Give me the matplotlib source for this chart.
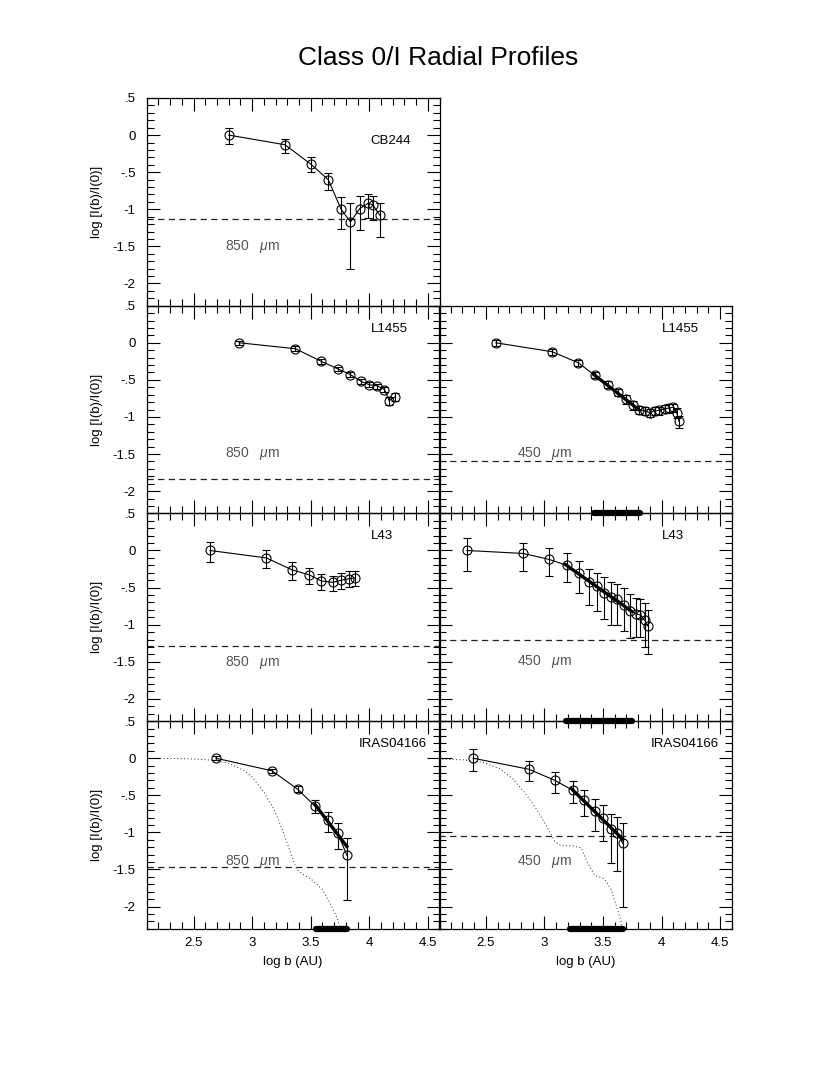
import matplotlib
matplotlib.use('Agg')
import matplotlib.pyplot as plt
from matplotlib.ticker import MultipleLocator, FuncFormatter

plt.rcParams['font.family'] = ['Liberation Sans', 'DejaVu Sans']
plt.rcParams['mathtext.fontset'] = 'custom'
plt.rcParams['mathtext.it'] = 'Liberation Sans:italic'
plt.rcParams['mathtext.rm'] = 'Liberation Sans'

# --- data (log b in AU, log I(b)/I(0)) ---
cb244_850_x = [2.80, 3.28, 3.50, 3.65, 3.76, 3.84, 3.92, 3.99, 4.03, 4.09]
cb244_850_y = [0.00, -0.13, -0.39, -0.60, -1.00, -1.17, -0.99, -0.92, -0.94, -1.08]
cb244_850_hi = [0.09, 0.08, 0.10, 0.09, 0.16, 0.25, 0.17, 0.13, 0.125, 0.17]
cb244_850_lo = [0.12, 0.11, 0.11, 0.14, 0.27, 0.63, 0.29, 0.20, 0.21, 0.29]
cb244_850_bg = -1.125

l1455_850_x = [2.89, 3.37, 3.59, 3.73, 3.84, 3.93, 4.00, 4.07, 4.13, 4.17, 4.22]
l1455_850_y = [0.00, -0.08, -0.25, -0.35, -0.43, -0.52, -0.565, -0.58, -0.63, -0.78, -0.73]
l1455_850_hi = [0.03, 0.03, 0.03, 0.03, 0.03, 0.03, 0.03, 0.03, 0.04, 0.05, 0.05]
l1455_850_lo = [0.03, 0.03, 0.03, 0.03, 0.03, 0.03, 0.03, 0.04, 0.04, 0.06, 0.06]
l1455_850_bg = -1.83

l1455_450_x = [2.585, 3.065, 3.29, 3.43, 3.54, 3.63, 3.70, 3.76, 3.81, 3.855,
               3.90, 3.94, 3.98, 4.03, 4.06, 4.10, 4.13, 4.15]
l1455_450_y = [0.00, -0.12, -0.27, -0.44, -0.565, -0.67, -0.76, -0.84, -0.90, -0.92,
               -0.94, -0.92, -0.91, -0.89, -0.88, -0.87, -0.94, -1.06]
l1455_450_hi = [0.04, 0.04, 0.04, 0.04, 0.05, 0.05, 0.05, 0.05, 0.05, 0.05,
                0.05, 0.05, 0.05, 0.05, 0.05, 0.05, 0.06, 0.07]
l1455_450_lo = [0.04, 0.04, 0.04, 0.04, 0.05, 0.05, 0.06, 0.06, 0.06, 0.06,
                0.06, 0.06, 0.06, 0.06, 0.06, 0.06, 0.07, 0.09]
l1455_450_bg = -1.59
l1455_450_fit_x = [3.42, 3.812]
l1455_450_fit_y = [-0.426, -0.91]
l1455_450_range = [3.42, 3.818]

l43_850_x = [2.64, 3.12, 3.34, 3.49, 3.59, 3.69, 3.76, 3.83, 3.88]
l43_850_y = [0.00, -0.10, -0.26, -0.33, -0.41, -0.43, -0.40, -0.38, -0.37]
l43_850_hi = [0.12, 0.11, 0.10, 0.09, 0.094, 0.09, 0.09, 0.10, 0.09]
l43_850_lo = [0.16, 0.135, 0.14, 0.12, 0.12, 0.12, 0.12, 0.11, 0.11]
l43_850_bg = -1.29

l43_450_x = [2.34, 2.82, 3.04, 3.19, 3.295, 3.38, 3.45, 3.51, 3.57, 3.62,
             3.68, 3.73, 3.78, 3.82, 3.855, 3.885]
l43_450_y = [0.00, -0.04, -0.12, -0.20, -0.31, -0.42, -0.48, -0.57, -0.63, -0.66,
             -0.73, -0.81, -0.85, -0.87, -0.94, -1.02]
l43_450_hi = [0.17, 0.14, 0.15, 0.16, 0.17, 0.17, 0.18, 0.21, 0.21, 0.21,
              0.22, 0.23, 0.21, 0.21, 0.23, 0.22]
l43_450_lo = [0.28, 0.23, 0.23, 0.23, 0.26, 0.31, 0.33, 0.36, 0.37, 0.35,
              0.35, 0.37, 0.31, 0.29, 0.36, 0.37]
l43_450_bg = -1.20
l43_450_fit_x = [3.18, 3.74]
l43_450_fit_y = [-0.19, -0.815]
l43_450_range = [3.185, 3.75]

iras_850_x = [2.69, 3.17, 3.39, 3.54, 3.65, 3.73, 3.81]
iras_850_y = [0.00, -0.17, -0.42, -0.65, -0.84, -1.01, -1.31]
iras_850_hi = [0.03, 0.03, 0.04, 0.08, 0.11, 0.14, 0.24]
iras_850_lo = [0.03, 0.03, 0.04, 0.09, 0.15, 0.22, 0.60]
iras_850_bg = -1.47
iras_850_fit_x = [3.537, 3.809]
iras_850_fit_y = [-0.625, -1.19]
iras_850_range = [3.543, 3.809]
# beam profile (dotted)
beam_850_x = [2.10, 2.39, 2.53, 2.69, 2.81, 2.93, 3.00, 3.10, 3.19, 3.26, 3.33,
              3.38, 3.43, 3.51, 3.60, 3.67, 3.73, 3.75]
beam_850_y = [0.00, -0.005, -0.013, -0.03, -0.076, -0.165, -0.254, -0.455, -0.70,
              -0.97, -1.28, -1.50, -1.56, -1.64, -1.77, -1.97, -2.17, -2.29]

iras_450_x = [2.39, 2.87, 3.09, 3.24, 3.34, 3.435, 3.50, 3.565, 3.62, 3.67]
iras_450_y = [0.00, -0.15, -0.30, -0.43, -0.57, -0.71, -0.81, -0.95, -1.01, -1.15]
iras_450_hi = [0.125, 0.11, 0.12, 0.125, 0.14, 0.16, 0.18, 0.20, 0.22, 0.27]
iras_450_lo = [0.17, 0.16, 0.17, 0.18, 0.21, 0.27, 0.30, 0.46, 0.51, 0.85]
iras_450_bg = -1.045
iras_450_fit_x = [3.23, 3.67]
iras_450_fit_y = [-0.41, -1.094]
iras_450_range = [3.22, 3.67]
beam_450_x = [2.10, 2.31, 2.48, 2.62, 2.73, 2.85, 2.93, 3.02, 3.09, 3.145, 3.24,
              3.315, 3.37, 3.43, 3.51, 3.57, 3.61, 3.65, 3.665]
beam_450_y = [-0.013, -0.022, -0.058, -0.143, -0.277, -0.50, -0.68, -0.92, -1.125,
              -1.18, -1.18, -1.21, -1.415, -1.58, -1.625, -1.77, -1.97, -2.17, -2.29]

panels = [
    dict(row=0, col=0, name='CB244', name_xy=(4.01, -0.08), wl='850', wl_y=-1.50,
         x=cb244_850_x, y=cb244_850_y, lo=cb244_850_lo, hi=cb244_850_hi, bg=cb244_850_bg),
    dict(row=1, col=0, name='L1455', name_xy=(4.01, 0.18), wl='850', wl_y=-1.49,
         x=l1455_850_x, y=l1455_850_y, lo=l1455_850_lo, hi=l1455_850_hi, bg=l1455_850_bg),
    dict(row=1, col=1, name='L1455', name_xy=(4.0, 0.18), wl='450', wl_y=-1.49,
         x=l1455_450_x, y=l1455_450_y, lo=l1455_450_lo, hi=l1455_450_hi, bg=l1455_450_bg,
         fit=(l1455_450_fit_x, l1455_450_fit_y), rng=l1455_450_range),
    dict(row=2, col=0, name='L43', name_xy=(4.01, 0.19), wl='850', wl_y=-1.51,
         x=l43_850_x, y=l43_850_y, lo=l43_850_lo, hi=l43_850_hi, bg=l43_850_bg),
    dict(row=2, col=1, name='L43', name_xy=(4.0, 0.19), wl='450', wl_y=-1.50,
         x=l43_450_x, y=l43_450_y, lo=l43_450_lo, hi=l43_450_hi, bg=l43_450_bg,
         fit=(l43_450_fit_x, l43_450_fit_y), rng=l43_450_range),
    dict(row=3, col=0, name='IRAS04166', name_xy=(3.91, 0.19), wl='850', wl_y=-1.39,
         x=iras_850_x, y=iras_850_y, lo=iras_850_lo, hi=iras_850_hi, bg=iras_850_bg,
         fit=(iras_850_fit_x, iras_850_fit_y), rng=iras_850_range,
         beam=(beam_850_x, beam_850_y)),
    dict(row=3, col=1, name='IRAS04166', name_xy=(3.905, 0.19), wl='450', wl_y=-1.39,
         x=iras_450_x, y=iras_450_y, lo=iras_450_lo, hi=iras_450_hi, bg=iras_450_bg,
         fit=(iras_450_fit_x, iras_450_fit_y), rng=iras_450_range,
         beam=(beam_450_x, beam_450_y)),
]

W, H = 830, 1075
fig = plt.figure(figsize=(W / 100, H / 100), dpi=100)

col_left = [146.7, 439.0]
col_w = 292.8
row_top = 98.0
row_h = 207.7


def short_fmt(v, pos):
    s = '%g' % round(v, 2)
    if s.startswith('0.'):
        s = s[1:]
    elif s.startswith('-0.'):
        s = '-' + s[2:]
    return s


for p in panels:
    top = row_top + p['row'] * row_h
    ax = fig.add_axes([col_left[p['col']] / W, 1 - (top + row_h) / H, col_w / W, row_h / H])
    ax.patch.set_visible(False)
    ax.set_xlim(2.1, 4.6)
    ax.set_ylim(-2.3, 0.5)

    ax.xaxis.set_major_locator(MultipleLocator(0.5))
    ax.xaxis.set_minor_locator(MultipleLocator(0.1))
    ax.yaxis.set_major_locator(MultipleLocator(0.5))
    ax.yaxis.set_minor_locator(MultipleLocator(0.1))
    ax.tick_params(which='both', direction='in', top=True, right=True, width=0.8,
                   labelsize=9.5)
    ax.tick_params(which='major', length=9.5)
    ax.tick_params(which='minor', length=5)
    ax.tick_params(axis='y', pad=8)
    ax.tick_params(axis='x', pad=6)
    for s in ax.spines.values():
        s.set_linewidth(0.9)

    if p['col'] == 0:
        ax.yaxis.set_major_formatter(FuncFormatter(short_fmt))
        ax.set_ylabel('log [I(b)/I(0)]', fontsize=9.5)
        ax.yaxis.set_label_coords(-0.15, 0.5)
    else:
        ax.set_yticklabels([])
    if p['row'] == 3:
        ax.xaxis.set_major_formatter(FuncFormatter(short_fmt))
        ax.set_xlabel('log b (AU)', fontsize=9.5)
        ax.xaxis.set_label_coords(0.5, -0.13)
    else:
        ax.set_xticklabels([])

    # background level
    ax.axhline(p['bg'], color='#222222', lw=0.9, linestyle=(0, (5, 3.5)))

    if 'beam' in p:
        ax.plot(p['beam'][0], p['beam'][1], color='#222222', lw=0.7,
                linestyle=(0, (1, 2.5)))

    ax.plot(p['x'], p['y'], color='black', lw=0.8)
    ax.errorbar(p['x'], p['y'], yerr=[p['lo'], p['hi']], fmt='o', ms=6.5,
                mfc='none', mec='black', mew=0.8, ecolor='black', elinewidth=0.8,
                capsize=3, capthick=0.8)

    if 'fit' in p:
        ax.plot(p['fit'][0], p['fit'][1], color='black', lw=2.4)
        ax.plot(p['rng'], [-2.3, -2.3], color='black', lw=4.5,
                solid_capstyle='round', clip_on=False, zorder=5)

    ax.text(p['name_xy'][0], p['name_xy'][1], p['name'], fontsize=9.5,
            ha='left', va='center')
    ax.text(2.77, p['wl_y'], p['wl'] + r'   $\mu$m', fontsize=10, color='#555555',
            ha='left', va='center')

fig.text(438.5 / W, 1 - 58 / H, 'Class 0/I Radial Profiles', fontsize=19,
         ha='center', va='center')

fig.savefig('out.png', dpi=100)
